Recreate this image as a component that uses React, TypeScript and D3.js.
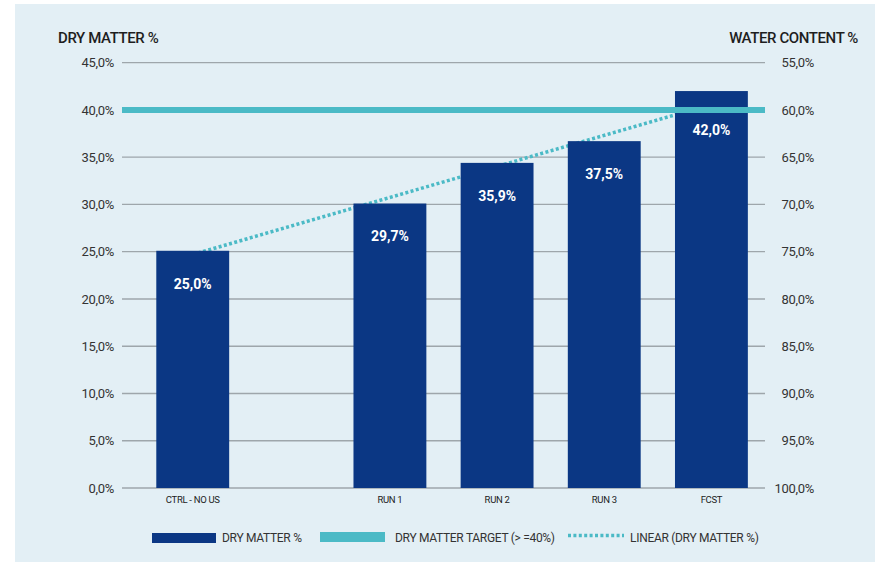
import React from "react";
import * as d3 from "d3";

// ---- data ----
const categories = ["CTRL - NO US", "RUN 1", "RUN 2", "RUN 3", "FCST"];
const dryMatter = [25.1, 30.1, 34.4, 36.7, 42.0]; // bar heights as drawn
const valueLabels = ["25,0%", "29,7%", "35,9%", "37,5%", "42,0%"];
const dryMatterTarget = 40;
const trendEnds = [24.7, 40.6]; // linear trend at first and last category
const leftTicks = [0, 5, 10, 15, 20, 25, 30, 35, 40, 45];
const rightTicks = [55, 60, 65, 70, 75, 80, 85, 90, 95, 100];
const legendItems = ["DRY MATTER %", "DRY MATTER TARGET (> =40%)", "LINEAR (DRY MATTER %)"];

// ---- layout ----
const W = 885;
const H = 563;
const plot = { left: 122, right: 765, top: 62.7, bottom: 488 };
const categorySlot = [0.16, 2, 3, 4, 5]; // position within a 6-slot axis
const NAVY = "#0b3784";
const TEAL = "#4bbac6";
const FONT = "Roboto, 'Open Sans', sans-serif";

const fmt = (v: number) => d3.format(".1f")(v).replace(".", ",") + "%";

export default function App() {
  const x = d3.scaleLinear().domain([-0.5, 5.5]).range([plot.left, plot.right]);
  const step = x(1) - x(0);
  const barW = step * 0.68;
  const y = d3.scaleLinear().domain([0, 45]).range([plot.bottom, plot.top]);
  const yR = d3.scaleLinear().domain([100, 55]).range([plot.bottom, plot.top]);

  const trendLine = d3
    .line<[number, number]>()
    .x((d) => d[0])
    .y((d) => d[1]);
  const trendPts: [number, number][] = [
    [x(categorySlot[0]), y(trendEnds[0])],
    [x(categorySlot[categorySlot.length - 1]), y(trendEnds[1])],
  ];
  const targetY = y(dryMatterTarget);

  const legendY = 538;
  return (
    <svg
      width={W}
      height={H}
      style={{ position: "absolute", left: 0, top: 0, background: "#ffffff" }}
      fontFamily={FONT}
    >
      <rect x={15} y={4} width={860} height={558} fill="#e3eff5" />

      {/* titles */}
      <text x={58} y={43} fontSize={15} fontWeight={500} fill="#1e1e1e" letterSpacing={-0.4}>
        DRY MATTER %
      </text>
      <text x={858} y={43} fontSize={15} fontWeight={500} fill="#1e1e1e" textAnchor="end" letterSpacing={-0.4}>
        WATER CONTENT %
      </text>

      {/* gridlines */}
      {leftTicks.map((t) => (
        <line
          key={"g" + t}
          x1={plot.left}
          x2={plot.right}
          y1={y(t)}
          y2={y(t)}
          stroke="#9ea6ab"
          strokeWidth={1.3}
        />
      ))}

      {/* left ticks */}
      {leftTicks.map((t) => (
        <text
          key={"l" + t}
          x={114}
          y={y(t)}
          dy="0.35em"
          textAnchor="end"
          fontSize={13}
          fill="#333"
          letterSpacing={-0.3}
        >
          {fmt(t)}
        </text>
      ))}
      {/* right ticks */}
      {rightTicks.map((t) => (
        <text
          key={"r" + t}
          x={814}
          y={yR(t)}
          dy="0.35em"
          textAnchor="end"
          fontSize={13}
          fill="#333"
          letterSpacing={-0.3}
        >
          {fmt(t)}
        </text>
      ))}

      {/* trend line (behind bars) */}
      <path
        d={trendLine(trendPts) || ""}
        fill="none"
        stroke={TEAL}
        strokeWidth={3.5}
        strokeDasharray="3 2.4"
      />

      {/* bars */}
      {categories.map((c, i) => (
        <rect
          key={"b" + c}
          x={x(categorySlot[i]) - barW / 2}
          y={y(dryMatter[i])}
          width={barW}
          height={y(0) - y(dryMatter[i])}
          fill={NAVY}
        />
      ))}

      {/* target line */}
      <line
        x1={plot.left}
        x2={plot.right}
        y1={targetY}
        y2={targetY}
        stroke={TEAL}
        strokeWidth={6}
      />

      {/* value labels */}
      {categories.map((c, i) => {
        const ly = Math.max(y(dryMatter[i]) + 33, targetY + 20);
        return (
          <text
            key={"v" + c}
            x={x(categorySlot[i])}
            y={ly}
            dy="0.35em"
            textAnchor="middle"
            fontSize={14}
            fontWeight={700}
            fill="#ffffff"
          >
            {valueLabels[i]}
          </text>
        );
      })}

      {/* category labels */}
      {categories.map((c, i) => (
        <text
          key={"c" + c}
          x={x(categorySlot[i])}
          y={500}
          dy="0.35em"
          textAnchor="middle"
          fontSize={9.5}
          fill="#222"
          letterSpacing={-0.3}
        >
          {c}
        </text>
      ))}

      {/* legend */}
      <g>
        <rect x={152} y={legendY - 5} width={64} height={10} fill={NAVY} />
        <text x={222} y={legendY} dy="0.35em" fontSize={12} fill="#333" letterSpacing={-0.3}>
          {legendItems[0]}
        </text>
        <rect x={320} y={legendY - 6} width={65} height={10} fill={TEAL} />
        <text x={395} y={legendY} dy="0.35em" fontSize={12} fill="#333" letterSpacing={-0.3}>
          {legendItems[1]}
        </text>
        <line
          x1={568}
          x2={624}
          y1={legendY - 2.5}
          y2={legendY - 2.5}
          stroke={TEAL}
          strokeWidth={3.5}
          strokeDasharray="3 2.4"
        />
        <text x={630} y={legendY} dy="0.35em" fontSize={12} fill="#333" letterSpacing={-0.3}>
          {legendItems[2]}
        </text>
      </g>
    </svg>
  );
}
